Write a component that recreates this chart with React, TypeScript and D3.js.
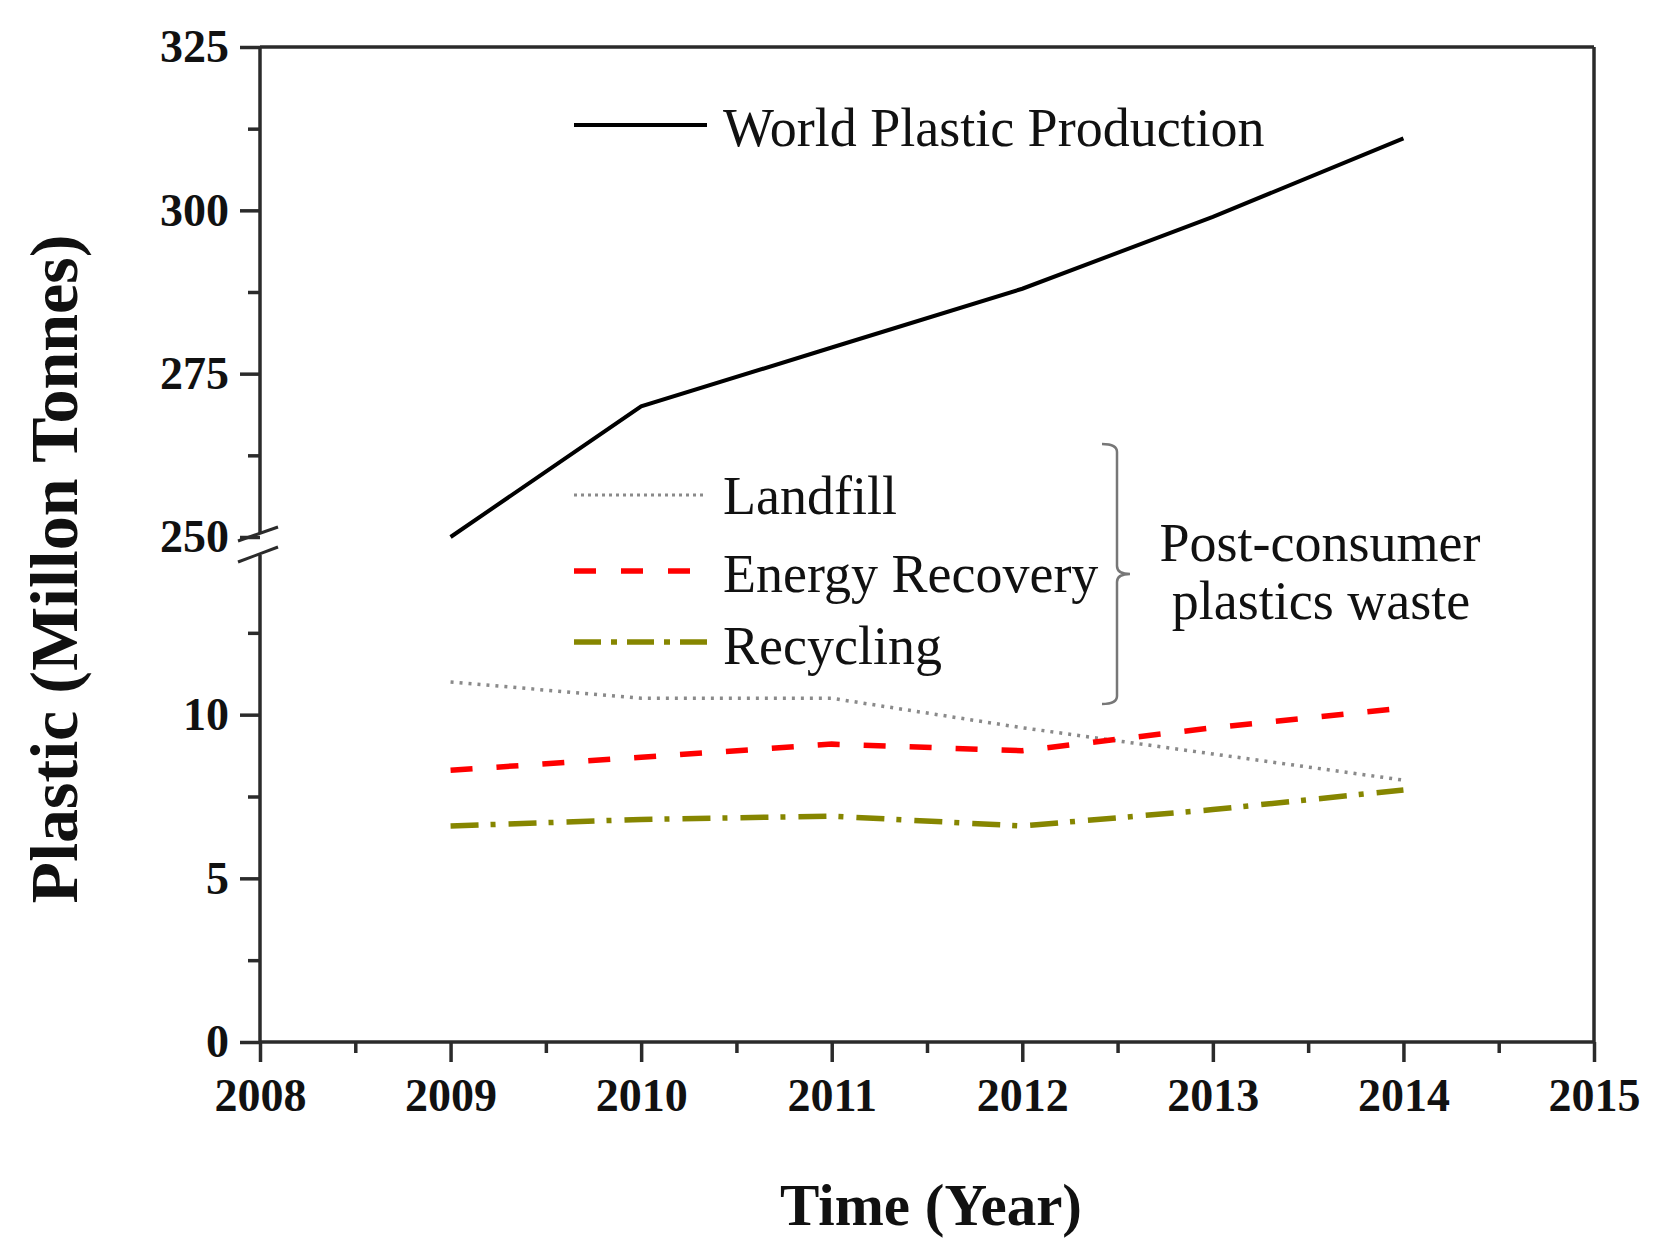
import { useRef, useEffect } from "react";
import { select, scaleLinear, axisLeft, axisBottom, line, format } from "d3";

const years = [2009, 2010, 2011, 2012, 2013, 2014];
const production = [250, 270, 279, 288, 299, 311];
const landfill = [11.0, 10.5, 10.5, 9.6, 8.8, 8.0];
const energyRecovery = [8.3, 8.7, 9.1, 8.9, 9.6, 10.2];
const recycling = [6.6, 6.8, 6.9, 6.6, 7.1, 7.7];

const xTicks = [2008, 2009, 2010, 2011, 2012, 2013, 2014, 2015];
const upperTicks = [250, 275, 300, 325];
const lowerTicks = [0, 5, 10];

const FONT = "'Liberation Serif', 'Times New Roman', serif";

function Chart() {
  const svgRef = useRef<SVGSVGElement | null>(null);
  const width = 1659;
  const height = 1252;

  useEffect(() => {
    if (!svgRef.current) return;
    const svg = select(svgRef.current);
    svg.selectAll("*").remove();

    const left = 260;
    const right = 1594;
    const top = 47;
    const bottom = 1042;
    const axisColor = "#2b2b2b";

    const x = scaleLinear().domain([2008, 2015]).range([left, right]);
    const yHigh = scaleLinear().domain([250, 325]).range([537, top]);
    const yLow = scaleLinear().domain([0, 15]).range([bottom, 551]);

    const styleAxis = (g: any, size: number) => {
      g.select(".domain").remove();
      g.selectAll(".tick line").attr("stroke", axisColor).attr("stroke-width", 3.5);
      g.selectAll("text")
        .attr("font-family", FONT)
        .attr("font-size", size)
        .attr("font-weight", "bold")
        .attr("fill", "#111");
    };

    // upper y segment
    svg.append("g")
      .attr("transform", `translate(${left},0)`)
      .call(axisLeft(yHigh).tickValues(upperTicks).tickSize(20).tickPadding(11).tickFormat(format("d")))
      .call((g) => styleAxis(g, 46));
    svg.append("g")
      .attr("transform", `translate(${left},0)`)
      .call(axisLeft(yHigh).tickValues([262.5, 287.5, 312.5]).tickSize(12).tickFormat(() => ""))
      .call((g) => styleAxis(g, 46));

    // lower y segment
    svg.append("g")
      .attr("transform", `translate(${left},0)`)
      .call(axisLeft(yLow).tickValues(lowerTicks).tickSize(20).tickPadding(11).tickFormat(format("d")))
      .call((g) => styleAxis(g, 46));
    svg.append("g")
      .attr("transform", `translate(${left},0)`)
      .call(axisLeft(yLow).tickValues([2.5, 7.5, 12.5]).tickSize(12).tickFormat(() => ""))
      .call((g) => styleAxis(g, 46));

    // x axis
    svg.append("g")
      .attr("transform", `translate(0,${bottom})`)
      .call(axisBottom(x).tickValues(xTicks).tickSize(20).tickPadding(16).tickFormat(format("d")))
      .call((g) => styleAxis(g, 46));
    svg.append("g")
      .attr("transform", `translate(0,${bottom})`)
      .call(axisBottom(x).tickValues(xTicks.slice(0, -1).map((d) => d + 0.5)).tickSize(11).tickFormat(() => ""))
      .call((g) => styleAxis(g, 46));

    // frame
    const frame = svg.append("g").attr("stroke", axisColor).attr("stroke-width", 3.5).attr("fill", "none");
    frame.append("line").attr("x1", left).attr("x2", left).attr("y1", top).attr("y2", 533);
    frame.append("line").attr("x1", left).attr("x2", left).attr("y1", 555).attr("y2", bottom);
    frame.append("line").attr("x1", left).attr("x2", right).attr("y1", bottom).attr("y2", bottom);
    frame.append("line").attr("x1", left).attr("x2", right).attr("y1", top).attr("y2", top);
    frame.append("line").attr("x1", right).attr("x2", right).attr("y1", top).attr("y2", bottom);
    // break marks
    frame.append("line").attr("x1", 238).attr("y1", 541).attr("x2", 278).attr("y2", 527).attr("stroke-width", 3);
    frame.append("line").attr("x1", 238).attr("y1", 562).attr("x2", 278).attr("y2", 547).attr("stroke-width", 3);

    // series
    const upperLine = line<number>().x((_, i) => x(years[i])).y((d) => yHigh(d));
    const lowerLine = line<number>().x((_, i) => x(years[i])).y((d) => yLow(d));

    svg.append("path").attr("d", upperLine(production)).attr("fill", "none")
      .attr("stroke", "#000").attr("stroke-width", 4);
    svg.append("path").attr("d", lowerLine(landfill)).attr("fill", "none")
      .attr("stroke", "#8a8a8a").attr("stroke-width", 3.5).attr("stroke-dasharray", "3 6");
    svg.append("path").attr("d", lowerLine(energyRecovery)).attr("fill", "none")
      .attr("stroke", "#ff0000").attr("stroke-width", 5.5).attr("stroke-dasharray", "22 24");
    svg.append("path").attr("d", lowerLine(recycling)).attr("fill", "none")
      .attr("stroke", "#868600").attr("stroke-width", 5.5).attr("stroke-dasharray", "28 12 5 13");

    // legend
    const legend = [
      { label: "World Plastic Production", y: 125, base: 146, stroke: "#000", w: 4, dash: "", x2: 707, len: 555 },
      { label: "Landfill", y: 495, base: 514, stroke: "#8a8a8a", w: 3, dash: "3 4", x2: 704, len: 172 },
      { label: "Energy Recovery", y: 571, base: 592, stroke: "#ff0000", w: 5.5, dash: "22 25", x2: 691, len: 374 },
      { label: "Recycling", y: 642, base: 664, stroke: "#868600", w: 5.5, dash: "27 10 6 10", x2: 707, len: 200 },
    ];
    legend.forEach((d) => {
      svg.append("line").attr("x1", 574).attr("x2", d.x2).attr("y1", d.y).attr("y2", d.y)
        .attr("stroke", d.stroke).attr("stroke-width", d.w).attr("stroke-dasharray", d.dash || null);
      svg.append("text").attr("x", 723).attr("y", d.base)
        .attr("font-family", FONT).attr("font-size", 54).attr("fill", "#111")
        .text(d.label);
    });

    // bracket
    svg.append("path")
      .attr("d", "M1102,444 Q1117,444 1117,452 L1117,566 Q1117,574 1130,574 Q1117,574 1117,582 L1117,696 Q1117,704 1102,704")
      .attr("fill", "none").attr("stroke", "#777").attr("stroke-width", 2.5);
    svg.append("text").attr("x", 1320).attr("y", 561).attr("text-anchor", "middle")
      .attr("font-family", FONT).attr("font-size", 54).attr("fill", "#111").text("Post-consumer");
    svg.append("text").attr("x", 1321).attr("y", 619).attr("text-anchor", "middle")
      .attr("font-family", FONT).attr("font-size", 54).attr("fill", "#111").text("plastics waste");

    // axis titles
    svg.append("text").attr("x", 931).attr("y", 1225).attr("text-anchor", "middle")
      .attr("font-family", FONT).attr("font-size", 59).attr("font-weight", "bold").attr("fill", "#111")
      .text("Time (Year)");
    svg.append("text").attr("transform", "translate(77,569) rotate(-90)").attr("text-anchor", "middle")
      .attr("font-family", FONT).attr("font-size", 68).attr("font-weight", "bold").attr("fill", "#111")
      .text("Plastic (Millon Tonnes)");
  }, []);

  return (
    <svg
      ref={svgRef}
      width={width}
      height={height}
      viewBox={`0 0 ${width} ${height}`}
      style={{ position: "absolute", left: 0, top: 0, background: "#fff" }}
    ></svg>
  );
}

export default function App() {
  return <Chart />;
}
